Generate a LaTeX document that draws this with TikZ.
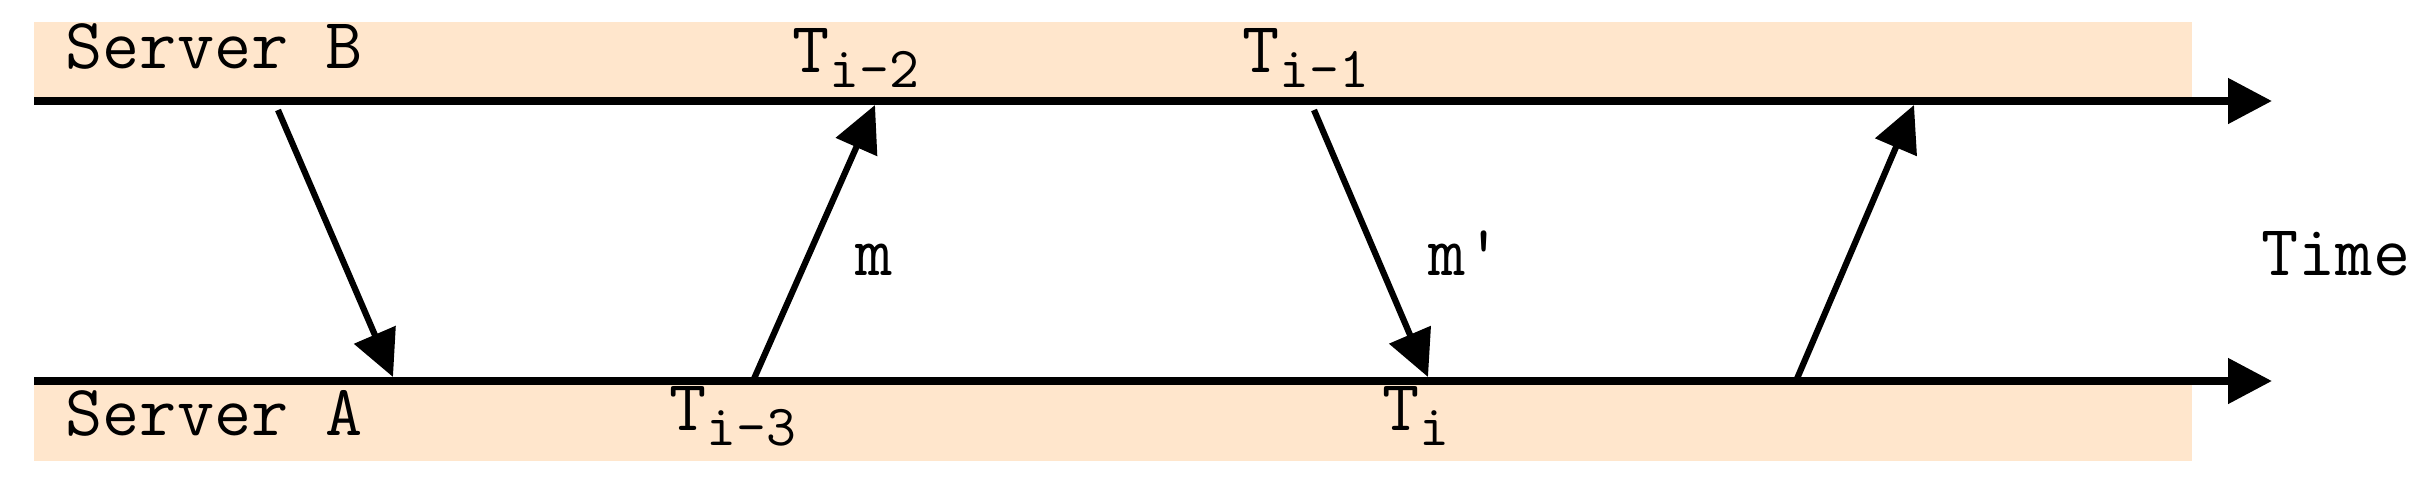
\documentclass[tikz,border=0pt]{standalone}
\usepackage{xcolor}
\usepackage{tikz}
\usetikzlibrary{arrows.meta}
\definecolor{bandpeach}{HTML}{FFE6CC}
\newcommand{\tsub}[1]{\raisebox{-0.15cm}{\fontsize{16.5}{16.5}\selectfont #1}}

\begin{document}
\begin{tikzpicture}[
    lbl/.style={anchor=base west, inner sep=0pt, font=\ttfamily\fontsize{20.5}{24}\selectfont},
    timeline/.style={line width=0.08cm, -{Triangle[length=0.44cm,width=0.44cm]}},
    msg/.style={line width=0.062cm, -{Triangle[length=0.46cm,width=0.44cm]}}
  ]
    \useasboundingbox (0,0) rectangle (24.36,4.84);
    % bands of the two servers
    \fill[bandpeach] (0.34,3.83) rectangle (21.92,4.62);
    \fill[bandpeach] (0.34,0.23) rectangle (21.92,1.03);
    % time lines
    \coordinate (bstart) at (0.34,3.83);
    \coordinate (bend) at (22.72,3.83);
    \coordinate (astart) at (0.34,1.03);
    \coordinate (aend) at (22.72,1.03);
    \draw[timeline] (bstart) -- (bend);
    \draw[timeline] (astart) -- (aend);
    % message end points
    \coordinate (s1) at (2.78,3.74);
    \coordinate (r1) at (3.93,1.07);
    \coordinate (s2) at (7.53,1.03);
    \coordinate (r2) at (8.75,3.79);
    \coordinate (s3) at (13.14,3.74);
    \coordinate (r3) at (14.28,1.07);
    \coordinate (s4) at (17.96,1.03);
    \coordinate (r4) at (19.14,3.79);
    \draw[msg] (s1) -- (r1);
    \draw[msg] (s2) -- (r2);
    \draw[msg] (s3) -- (r3);
    \draw[msg] (s4) -- (r4);
    % labels
    \node[lbl] (srvb) at (0.65,4.16) {Server B};
    \node[lbl] (srva) at (0.65,0.49) {Server A};
    \node[lbl] (t2) at (7.92,4.12) {T\tsub{i-2}};
    \node[lbl] (t1) at (12.42,4.12) {T\tsub{i-1}};
    \node[lbl] (t3) at (6.69,0.54) {T\tsub{i-3}};
    \node[lbl] (t0) at (13.82,0.54) {T\tsub{i}};
    \node[lbl] (m) at (8.55,2.09) {m};
    \node[lbl] (mp) at (14.28,2.09) {m'};
    \node[lbl] (time) at (22.61,2.09) {Time};
  \end{tikzpicture}
\end{document}
